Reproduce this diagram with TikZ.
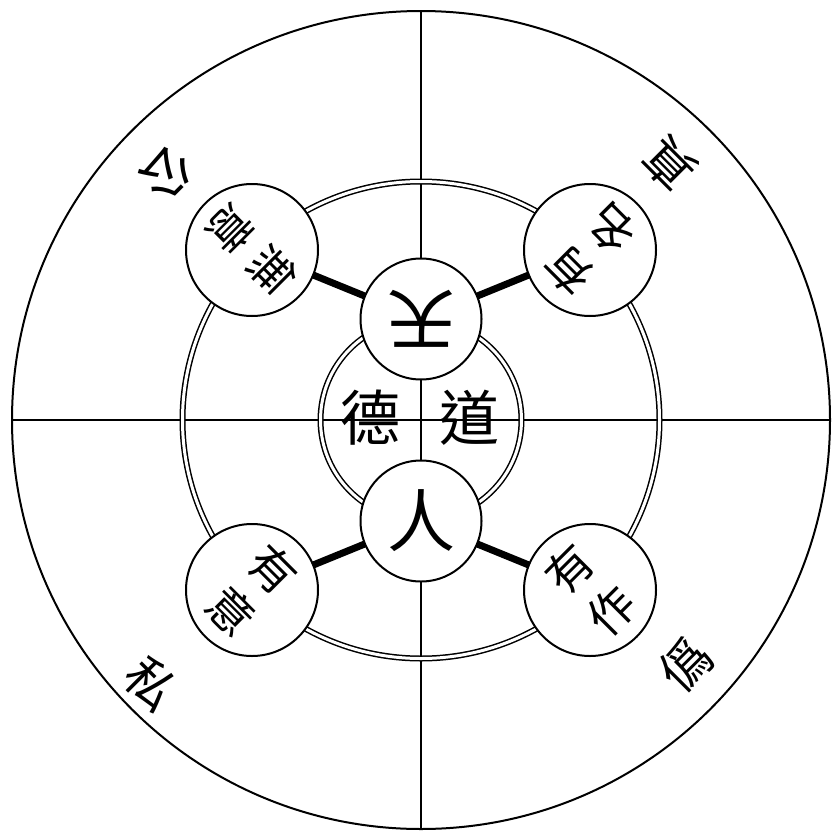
\documentclass[tikz,border=0pt]{standalone}
\usepackage{fontspec}
\newfontfamily\cjk{Noto Sans CJK TC}
\usetikzlibrary{backgrounds}
\begin{document}
\begin{tikzpicture}[x=1pt,y=-1pt]
\tikzset{
  outline/.style={line width=2pt},
  axis/.style={line width=1.7pt},
  ring/.style={double, double distance=3pt, line width=1.5pt},
  disc/.style={circle, draw, fill=white, line width=2pt, minimum size=132pt, inner sep=0pt},
  hub/.style={circle, draw, fill=white, line width=2pt, minimum size=121pt, inner sep=0pt},
  link/.style={line width=7pt},
  bigch/.style={font=\cjk\fontsize{68}{68}\selectfont, inner sep=0pt},
  midch/.style={font=\cjk\fontsize{60}{60}\selectfont, inner sep=0pt},
  smallch/.style={font=\cjk\fontsize{46}{46}\selectfont, inner sep=0pt},
  outerch/.style={font=\cjk\fontsize{50}{50}\selectfont, inner sep=0pt},
}
\useasboundingbox (0,0) rectangle (831,835);
\coordinate (O) at (421,420);
\coordinate (N) at (421,11);
\coordinate (S) at (421,829);
\coordinate (W) at (12,420);
\coordinate (E) at (830,420);
\draw[outline] (O) circle[radius=409pt];
\draw[axis] (N) -- (S);
\draw[axis] (W) -- (E);
\draw[ring] (O) circle[radius=238.5pt];
\draw[ring] (O) circle[radius=100.5pt];
% discs
\node[disc] (ul) at (252,250) {};
\node[disc] (ur) at (590,250) {};
\node[disc] (ll) at (252,590) {};
\node[disc] (lr) at (590,590) {};
\node[hub] (ten) at (421,319) {};
\node[hub] (jin) at (421,521) {};
\begin{scope}[on background layer]
  \draw[link] (ul.center) -- (ten.center);
  \draw[link] (ur.center) -- (ten.center);
  \draw[link] (ll.center) -- (jin.center);
  \draw[link] (lr.center) -- (jin.center);
\end{scope}
% texts
\node[bigch, rotate=180] (tTen) at (ten) {天};
\node[bigch] (tJin) at (jin) {人};
\node[midch] (tDe) at (370,418) {德};
\node[midch] (tDao) at (469,418) {道};
\node[smallch, rotate=-135] (ul1) at (273,271) {無};
\node[smallch, rotate=-135] (ul2) at (231,229) {意};
\node[smallch, rotate=135] (ur1) at (569,271) {有};
\node[smallch, rotate=135] (ur2) at (611,229) {名};
\node[smallch, rotate=-45] (ll1) at (273,569) {有};
\node[smallch, rotate=-45] (ll2) at (231,611) {意};
\node[smallch, rotate=45] (lr1) at (569,569) {有};
\node[smallch, rotate=45] (lr2) at (611,611) {作};
\node[outerch, rotate=-135] (gong) at (167,173) {公};
\node[outerch, rotate=135] (zhen) at (669,164) {真};
\node[outerch, rotate=-45] (si) at (151,684) {私};
\node[outerch, rotate=45] (wei) at (686,664) {僞};
\end{tikzpicture}
\end{document}
